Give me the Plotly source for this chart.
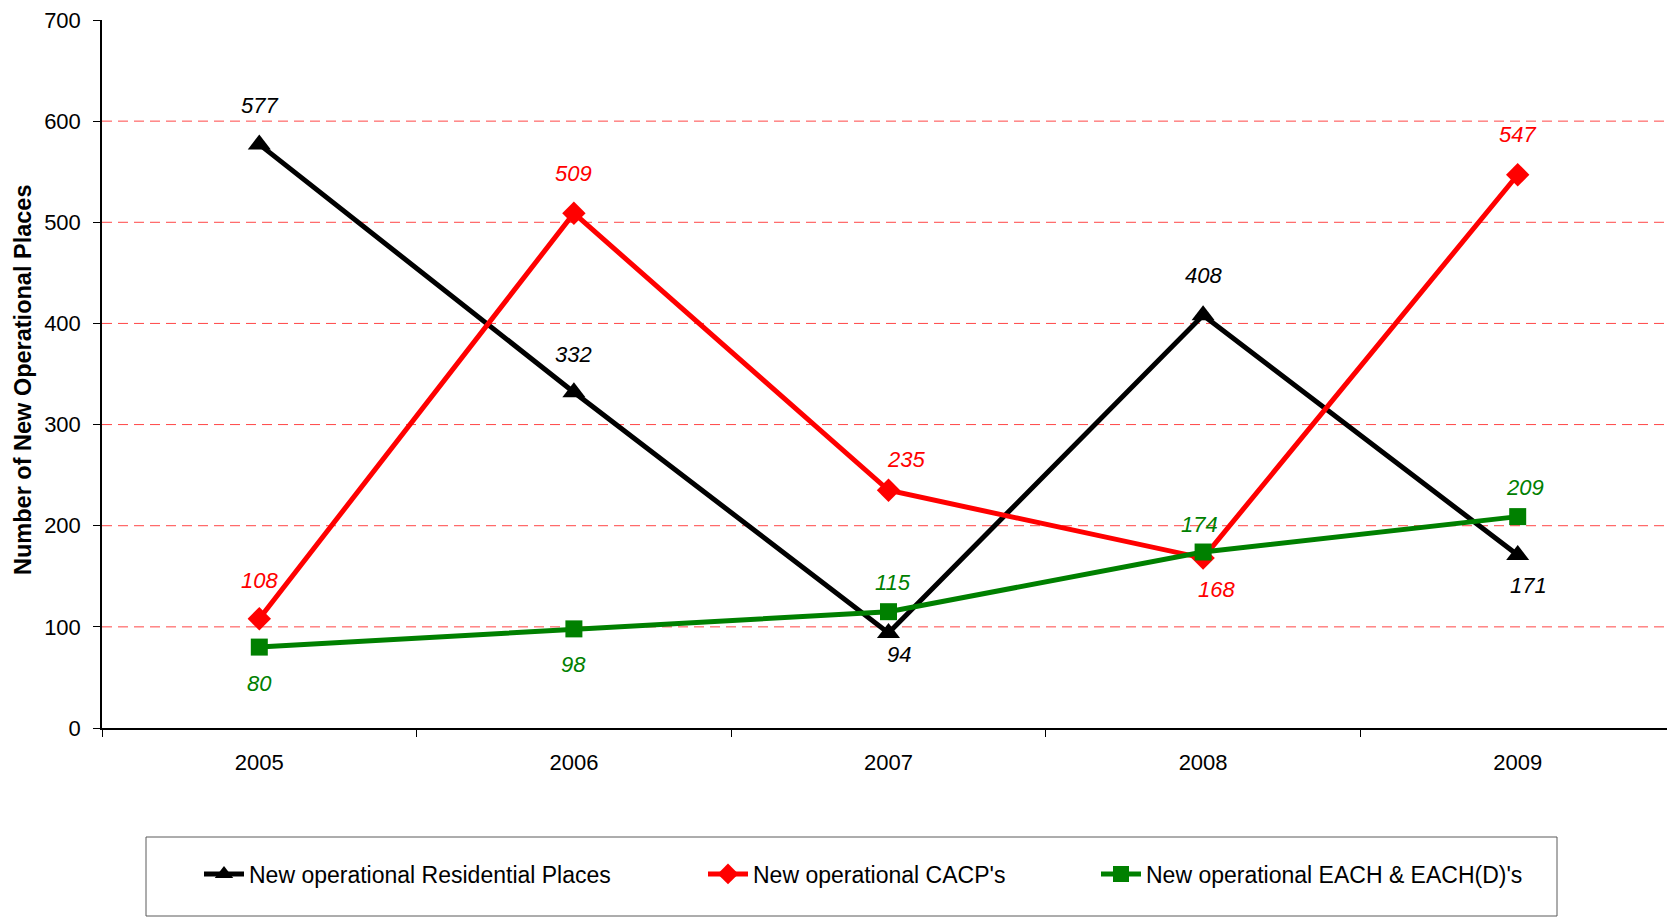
import plotly.graph_objects as go

years = ["2005", "2006", "2007", "2008", "2009"]
residential = [577, 332, 94, 408, 171]
cacp = [108, 509, 235, 168, 547]
each = [80, 98, 115, 174, 209]
names = ["New operational Residential Places", "New operational CACP's",
         "New operational EACH & EACH(D)'s"]
grid_vals = [100, 200, 300, 400, 500, 600]
y_ticks = [0, 100, 200, 300, 400, 500, 600, 700]

# label offsets (pixels) : (xshift, yshift)
res_off = [(0, 39), (0, 38), (10, -22), (0, 40), (11, -30)]
cacp_off = [(0, 38), (0, 40), (17, 31), (13, -31), (0, 40)]
each_off = [(0, -36), (0, -36), (4, 29), (-4, 28), (7, 29)]

series = [
    (residential, names[0], "#000000", "triangle-up", 20, res_off, "legend"),
    (cacp, names[1], "#FF0000", "diamond", 18, cacp_off, "legend2"),
    (each, names[2], "#008000", "square", 17, each_off, "legend3"),
]

# page has an 8px body margin
OFF = 8
PAGE_W, PAGE_H = 1675, 917
W, H = PAGE_W - OFF, PAGE_H - OFF
plot_left, plot_top, plot_right, plot_bottom = 102, 20, 1675, 728  # page pixels
L = plot_left - OFF
T = plot_top - OFF
R = W - (plot_right - OFF)
B = H - (plot_bottom - OFF)
pw = plot_right - plot_left
ph = plot_bottom - plot_top


def px_x(px):
    return (px - plot_left) / pw


def px_y(py):
    return (plot_bottom - py) / ph


fig = go.Figure()
annotations = []
for vals, name, color, sym, msize, offs, lg in series:
    fig.add_trace(go.Scatter(
        x=years, y=vals, name=name, mode="lines+markers",
        line=dict(color=color, width=5),
        marker=dict(symbol=sym, size=msize, color=color),
        legend=lg,
    ))
    for i, (yv, (dx, dy)) in enumerate(zip(vals, offs)):
        annotations.append(dict(
            x=i, y=yv, xref="x", yref="y", text="<i>" + str(yv) + "</i>",
            showarrow=False, xshift=dx, yshift=dy,
            font=dict(family="Liberation Sans, Arial", size=22, color=color),
            xanchor="center", yanchor="middle",
        ))

annotations.append(dict(
    x=px_x(23), y=px_y(380), xref="paper", yref="paper",
    text="<b>Number of New Operational Places</b>", textangle=-90,
    showarrow=False, xanchor="center", yanchor="middle",
    font=dict(family="Liberation Sans, Arial", size=23.5, color="#000000"),
))

shapes = []
for g in grid_vals:
    shapes.append(dict(type="line", xref="paper", yref="y", x0=0, x1=1, y0=g, y1=g,
                       line=dict(color="rgb(255,70,70)", width=1, dash="10px,6px"),
                       layer="below"))
# legend box
shapes.append(dict(type="rect", xref="paper", yref="paper",
                   x0=px_x(146), x1=px_x(1557),
                   y0=px_y(916), y1=px_y(837),
                   line=dict(color="#5a5a5a", width=1), fillcolor="rgba(0,0,0,0)"))

leg_font = dict(family="Liberation Sans, Arial", size=23, color="#000000")
leg_y = px_y(874)


def leg(px):
    return dict(orientation="h", x=px_x(px), y=leg_y, xanchor="left", yanchor="middle",
                bgcolor="rgba(0,0,0,0)", borderwidth=0, font=leg_font, itemwidth=40)


fig.update_layout(
    width=W, height=H,
    margin=dict(l=L, r=R, t=T, b=B),
    paper_bgcolor="white", plot_bgcolor="white",
    showlegend=True,
    legend=leg(199),
    legend2=leg(703),
    legend3=leg(1096),
    xaxis=dict(
        type="category", range=[-0.5, 4.5], showgrid=False,
        showline=True, linecolor="#000000", linewidth=1.5,
        ticks="outside", ticklen=7, tickcolor="#000000", tickson="boundaries",
        tickfont=dict(family="Liberation Sans, Arial", size=22, color="#000000"),
        ticklabelstandoff=14, zeroline=False, ticklabeloverflow="allow",
    ),
    yaxis=dict(
        range=[0, 700], tickvals=y_ticks, showgrid=False,
        showline=True, linecolor="#000000", linewidth=1.5,
        ticks="outside", ticklen=7, tickcolor="#000000",
        tickfont=dict(family="Liberation Sans, Arial", size=22, color="#000000"),
        ticklabelstandoff=8, zeroline=False, ticklabeloverflow="allow",
    ),
    annotations=annotations,
    shapes=shapes,
)

fig.write_html("out.html")
